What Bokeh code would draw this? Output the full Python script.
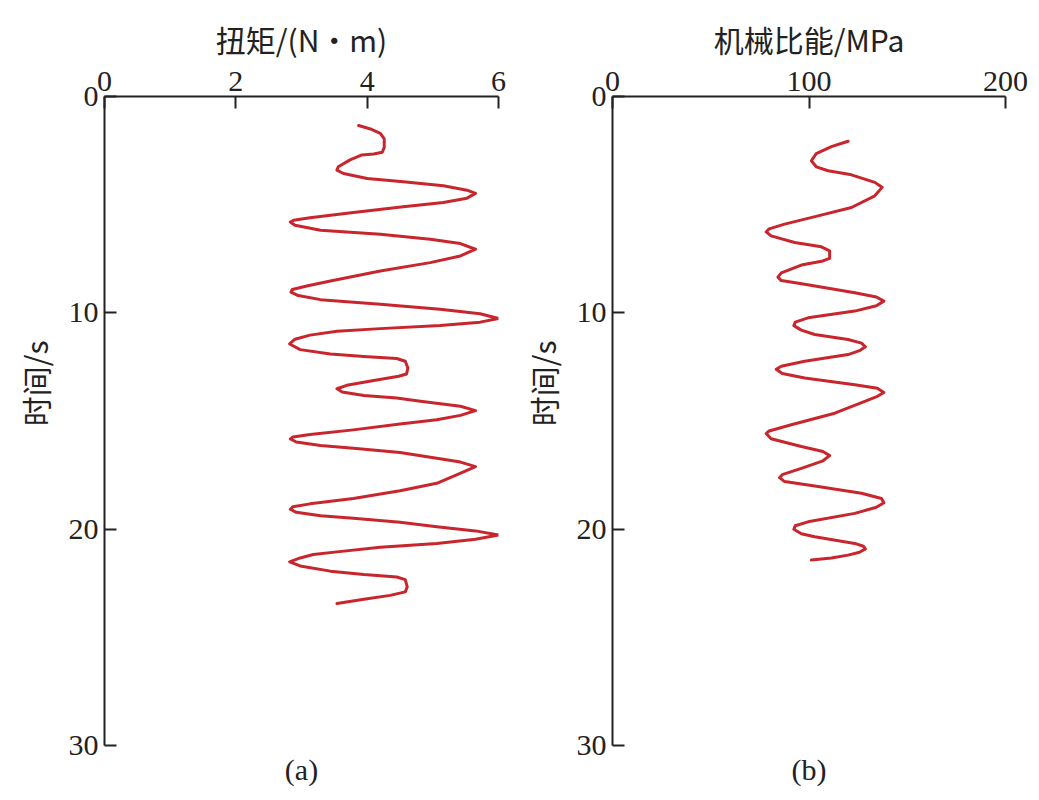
from bokeh.plotting import figure
from bokeh.models import Range1d, FixedTicker, Title
from bokeh.layouts import row
from bokeh.embed import file_html
from bokeh.resources import INLINE

# Panel (a): torque (N·m) vs time (s)
torque_nm = [3.87, 4.05, 4.20, 4.26, 4.26, 4.23, 4.10, 3.92, 3.74, 3.56, 3.54, 3.64,
             4.00, 4.55, 5.16, 5.52, 5.65, 5.52, 5.16, 4.55, 3.79, 3.13, 2.88, 2.83,
             2.90, 3.29, 4.20, 4.96, 5.42, 5.65, 5.42, 4.96, 4.20, 3.44, 3.08, 2.86,
             2.84, 2.95, 3.29, 4.20, 5.11, 5.72, 6.00, 5.72, 5.11, 4.20, 3.54, 3.13,
             2.90, 2.82, 2.98, 3.44, 3.95, 4.45, 4.58, 4.62, 4.60, 4.48, 4.10, 3.69,
             3.54, 3.62, 3.95, 4.45, 4.81, 5.42, 5.65, 5.42, 5.06, 4.50, 3.79, 3.13,
             2.87, 2.83, 2.92, 3.29, 3.79, 4.50, 5.06, 5.42, 5.65, 5.45, 5.06, 4.50,
             3.79, 3.13, 2.87, 2.83, 2.92, 3.29, 3.79, 4.50, 5.06, 5.65, 6.00, 5.65,
             5.06, 4.20, 3.54, 3.18, 2.98, 2.82, 2.98, 3.44, 3.95, 4.45, 4.58, 4.61,
             4.58, 4.35, 3.95, 3.54]
torque_time_s = [1.34, 1.50, 1.70, 1.96, 2.35, 2.58, 2.66, 2.70, 2.93, 3.25, 3.40, 3.56,
                 3.79, 3.94, 4.13, 4.33, 4.48, 4.70, 4.90, 5.10, 5.36, 5.60, 5.72, 5.80,
                 5.95, 6.18, 6.37, 6.60, 6.80, 7.06, 7.37, 7.68, 8.07, 8.53, 8.76, 8.92,
                 9.04, 9.20, 9.39, 9.60, 9.83, 10.04, 10.26, 10.43, 10.59, 10.73, 10.85, 11.03,
                 11.22, 11.44, 11.70, 11.90, 12.02, 12.11, 12.24, 12.55, 12.83, 12.93, 13.13, 13.35,
                 13.51, 13.66, 13.82, 13.94, 14.09, 14.32, 14.52, 14.74, 14.94, 15.14, 15.41, 15.62,
                 15.74, 15.83, 15.97, 16.13, 16.26, 16.46, 16.72, 16.90, 17.11, 17.38, 17.88, 18.22,
                 18.58, 18.83, 18.96, 19.08, 19.22, 19.38, 19.50, 19.68, 19.89, 20.08, 20.27, 20.47,
                 20.66, 20.84, 21.05, 21.17, 21.33, 21.51, 21.70, 21.94, 22.10, 22.21, 22.33, 22.67,
                 22.90, 23.06, 23.24, 23.44]

# Panel (b): mechanical specific energy (MPa) vs time (s)
mse_mpa = [119.9, 111.4, 103.7, 101.2, 103.7, 109.7, 121.6, 133.5, 137.2, 133.5, 121.6, 104.6,
           87.6, 79.7, 78.2, 80.7, 92.7, 106.3, 110.5, 110.5, 107.1, 96.1, 85.9, 84.2,
           85.9, 97.8, 123.3, 134.3, 138.1, 134.3, 123.3, 99.5, 93.0, 92.3, 96.1, 102.9,
           119.9, 126.7, 128.7, 125.7, 119.9, 97.8, 85.9, 83.3, 86.4, 97.8, 123.3, 134.8,
           138.1, 134.8, 128.4, 113.1, 91.0, 79.7, 78.2, 80.7, 96.1, 107.1, 110.5, 107.1,
           96.1, 86.4, 85.0, 87.6, 104.6, 126.7, 136.9, 138.1, 134.3, 123.3, 99.5, 93.0,
           92.3, 96.1, 102.9, 123.3, 127.7, 128.7, 125.7, 119.9, 111.4, 101.2]
mse_time_s = [2.07, 2.32, 2.64, 2.97, 3.25, 3.43, 3.62, 3.97, 4.20, 4.59, 5.13, 5.52,
              5.90, 6.12, 6.26, 6.44, 6.75, 6.95, 7.14, 7.48, 7.60, 7.79, 8.15, 8.35,
              8.51, 8.68, 9.07, 9.27, 9.46, 9.67, 9.92, 10.23, 10.43, 10.59, 10.80, 11.00,
              11.23, 11.40, 11.57, 11.75, 11.93, 12.24, 12.47, 12.61, 12.80, 13.01, 13.32, 13.49,
              13.68, 13.86, 14.09, 14.64, 15.17, 15.46, 15.58, 15.82, 16.18, 16.41, 16.60, 16.84,
              17.19, 17.48, 17.62, 17.80, 18.03, 18.34, 18.58, 18.78, 18.99, 19.27, 19.66, 19.84,
              20.00, 20.21, 20.35, 20.66, 20.79, 20.91, 21.07, 21.20, 21.33, 21.43]

time_ticks = [0, 10, 20, 30]
torque_ticks = [0, 2, 4, 6]
mse_ticks = [0, 100, 200]

LINE_COLOR = "#c8262c"
INK = "#222222"
SERIF = "Liberation Serif"
CJK = "Noto Sans CJK SC"


def make_panel(xs, ys, xmax, xticks, xlabel, caption, width, bl, br):
    p = figure(width=width, height=790, output_backend="svg", toolbar_location=None,
               x_range=Range1d(0, xmax), y_range=Range1d(30, 0),
               x_axis_location="above", y_axis_location="left",
               min_border_left=bl, min_border_right=br,
               min_border_top=96, min_border_bottom=40)
    p.outline_line_color = None
    p.grid.visible = False
    p.background_fill_color = "white"
    p.border_fill_color = "white"
    p.xaxis.ticker = FixedTicker(ticks=xticks)
    p.yaxis.ticker = FixedTicker(ticks=time_ticks)
    for ax in (p.xaxis[0], p.yaxis[0]):
        ax.axis_line_width = 2
        ax.axis_line_color = INK
        ax.major_tick_line_width = 2
        ax.major_tick_line_color = INK
        ax.major_tick_in = 12
        ax.major_tick_out = 0
        ax.minor_tick_line_color = None
        ax.major_label_text_font = SERIF
        ax.major_label_text_font_size = "30px"
        ax.major_label_text_color = INK
        ax.major_label_standoff = 6
        ax.axis_label_text_font = CJK
        ax.axis_label_text_font_size = "30px"
        ax.axis_label_text_font_style = "normal"
        ax.axis_label_text_color = INK
        ax.axis_label_standoff = 8
    p.xaxis.axis_label = xlabel
    p.line(xs, ys, line_color=LINE_COLOR, line_width=3, line_join="round", line_cap="round")
    p.add_layout(Title(text="时间/s", align="right", offset=244, text_font=CJK,
                       text_font_size="30px", text_font_style="normal",
                       text_color=INK, standoff=18), "left")
    p.add_layout(Title(text=caption, align="center", text_font=SERIF,
                       text_font_size="30px", text_font_style="normal",
                       text_color=INK), "below")
    return p


pa = make_panel(torque_nm, torque_time_s, 6, torque_ticks, "扭矩/(N·m)", "(a)", 507, 104, 9)
pb = make_panel(mse_mpa, mse_time_s, 200, mse_ticks, "机械比能/MPa", "(b)", 523, 105, 25)

layout = row(pa, pb)
open("out.html", "w").write(file_html(layout, INLINE))
